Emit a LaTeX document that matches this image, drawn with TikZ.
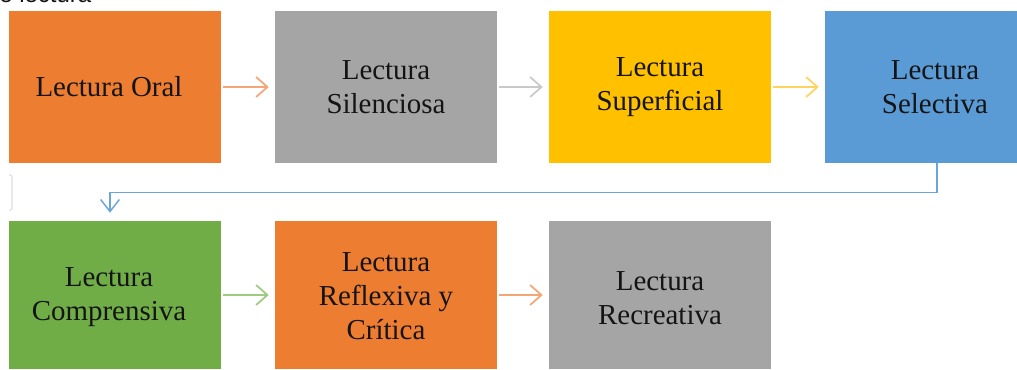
\documentclass[tikz,border=0pt]{standalone}
\usepackage{fontspec}
\setmainfont{Liberation Serif}
\newfontfamily\sansf{Liberation Sans}
\usetikzlibrary{arrows.meta}
\definecolor{cOrange}{HTML}{ED7D31}
\definecolor{cGray}{HTML}{A5A5A5}
\definecolor{cYellow}{HTML}{FFC000}
\definecolor{cBlue}{HTML}{5B9BD5}
\definecolor{cGreen}{HTML}{70AD47}
\definecolor{aOrange}{HTML}{F4A676}
\definecolor{aGray}{HTML}{C9C9C9}
\definecolor{aYellow}{HTML}{FFD45E}
\definecolor{aGreen}{HTML}{9DCB7F}
\definecolor{aBlue}{HTML}{6AA5DC}
\definecolor{txt}{HTML}{141414}
\tikzset{
  box/.style={rectangle, draw=none, minimum width=166.5pt, minimum height=114pt,
    align=center, text=txt, inner sep=0pt,
    font=\fontsize{21.7pt}{25.5pt}\selectfont},
  lbl/.style={box, minimum width=0pt, minimum height=0pt},
  flow/.style={line width=1.5pt, shorten <=1.5pt, shorten >=4.5pt,
    -{Straight Barb[length=8.5pt,width=15pt,line width=1.3pt]}},
  link/.style={aBlue, line width=1.1pt, shorten >=6pt,
    -{Straight Barb[length=9pt,width=14pt,line width=1.1pt]}}
}
\begin{document}
\begin{tikzpicture}[x=0.75pt,y=-0.75pt]
\useasboundingbox[fill=white] (0,0) rectangle (1017,369);
\begin{scope}
\clip (0,0) rectangle (1017,369);
\node[anchor=base west, inner sep=0pt, text=txt, font=\sansf\fontsize{18pt}{20pt}\selectfont] (cap) at (-1,2) {e lectura};
\end{scope}
% row 1
\node[box, fill=cOrange, minimum width=159pt] (b1) at (115,87) {};
\node[lbl] (b1t) at (109,87) {Lectura Oral};
\node[box, fill=cGray] (b2) at (386,87) {Lectura\\Silenciosa};
\node[box, fill=cYellow] (b3) at (660,87) {Lectura\\Superficial};
\node[box, fill=cBlue, minimum width=144pt] (b4) at (921,87) {};
\node[lbl] (b4t) at (935,87) {Lectura\\Selectiva};
% row 2
\node[box, fill=cGreen, minimum width=159pt, minimum height=111pt] (b5) at (115,295) {};
\node[lbl] (b5t) at (109,297) {Lectura\\Comprensiva};
\node[box, fill=cOrange, minimum height=111pt] (b6) at (386,295) {};
\node[lbl] (b6t) at (386,296) {Lectura\\Reflexiva y\\Crítica};
\node[box, fill=cGray, minimum height=111pt] (b7) at (660,295) {};
\node[lbl] (b7t) at (660,298) {Lectura\\Recreativa};
% arrows
\draw[flow, aOrange] (b1.east) -- (b2.west);
\draw[flow, aGray] (b2.east) -- (b3.west);
\draw[flow, aYellow] (b3.east) -- (b4.west);
\draw[flow, aGreen] (b5.east) -- (b6.west);
\draw[flow, aOrange] (b6.east) -- (b7.west);
\draw[link] ([xshift=12pt]b4.south) -- ++(0,29) -| ([xshift=-3.75pt]b5.north);
% faint bracket
\coordinate (br1) at (9,175);
\coordinate (br2) at (9,210);
\draw[gray!25, line width=0.8pt, rounded corners=1pt] (br1) -- ++(3,0) -- ++(0,35) -- (br2);
\end{tikzpicture}
\end{document}
